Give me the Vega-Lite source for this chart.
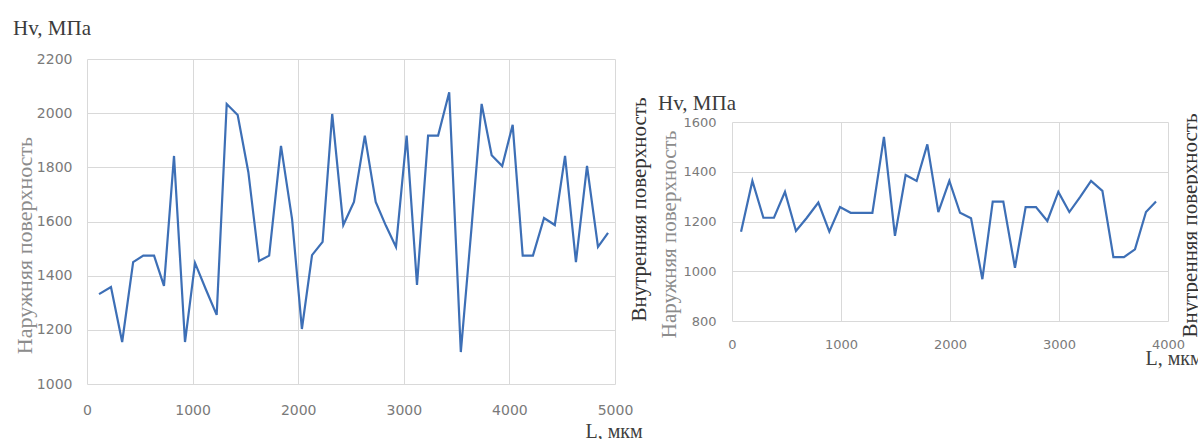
{
  "$schema": "https://vega.github.io/schema/vega-lite/v6.json",
  "padding": {"left": 13, "top": 18, "right": 0, "bottom": 0},
  "background": "white",
  "spacing": 117,
  "center": true,
  "bounds": "flush",
  "config": {
    "view": {"stroke": null},
    "axis": {
      "grid": true, "gridColor": "#d9d9d9", "gridWidth": 1,
      "domain": false, "ticks": false, "tickSize": 0, "format": "d",
      "labelFont": "DejaVu Sans", "labelColor": "#7a7a7a", "labelFlush": false, "labelOverlap": false,
      "titleFont": "Liberation Serif", "titleFontWeight": "normal"
    },
    "title": {"font": "Liberation Serif", "fontWeight": "normal", "color": "#3b3b3b", "fontSize": 21}
  },
  "datasets": {
    "outer": [
      {"L": 114, "Hv": 1332}, {"L": 227, "Hv": 1358}, {"L": 333, "Hv": 1155}, {"L": 437, "Hv": 1450},
      {"L": 533, "Hv": 1474}, {"L": 635, "Hv": 1474}, {"L": 729, "Hv": 1362}, {"L": 824, "Hv": 1842},
      {"L": 928, "Hv": 1155}, {"L": 1023, "Hv": 1447}, {"L": 1125, "Hv": 1350}, {"L": 1228, "Hv": 1255},
      {"L": 1323, "Hv": 2034}, {"L": 1427, "Hv": 1993}, {"L": 1528, "Hv": 1782}, {"L": 1629, "Hv": 1454},
      {"L": 1725, "Hv": 1474}, {"L": 1837, "Hv": 1879}, {"L": 1942, "Hv": 1609}, {"L": 2035, "Hv": 1203},
      {"L": 2131, "Hv": 1476}, {"L": 2231, "Hv": 1525}, {"L": 2322, "Hv": 1997}, {"L": 2427, "Hv": 1587},
      {"L": 2528, "Hv": 1672}, {"L": 2631, "Hv": 1917}, {"L": 2734, "Hv": 1672}, {"L": 2830, "Hv": 1585},
      {"L": 2926, "Hv": 1506}, {"L": 3027, "Hv": 1917}, {"L": 3125, "Hv": 1366}, {"L": 3230, "Hv": 1917},
      {"L": 3325, "Hv": 1917}, {"L": 3430, "Hv": 2077}, {"L": 3540, "Hv": 1118}, {"L": 3643, "Hv": 1585},
      {"L": 3737, "Hv": 2034}, {"L": 3832, "Hv": 1845}, {"L": 3932, "Hv": 1805}, {"L": 4031, "Hv": 1957},
      {"L": 4126, "Hv": 1474}, {"L": 4223, "Hv": 1474}, {"L": 4328, "Hv": 1613}, {"L": 4430, "Hv": 1587},
      {"L": 4527, "Hv": 1842}, {"L": 4630, "Hv": 1450}, {"L": 4735, "Hv": 1805}, {"L": 4839, "Hv": 1506},
      {"L": 4934, "Hv": 1558}
    ],
    "inner": [
      {"L": 83, "Hv": 1159}, {"L": 187, "Hv": 1363}, {"L": 288, "Hv": 1215}, {"L": 385, "Hv": 1215},
      {"L": 486, "Hv": 1319}, {"L": 587, "Hv": 1162}, {"L": 685, "Hv": 1214}, {"L": 792, "Hv": 1276},
      {"L": 893, "Hv": 1159}, {"L": 991, "Hv": 1258}, {"L": 1089, "Hv": 1235}, {"L": 1190, "Hv": 1235},
      {"L": 1288, "Hv": 1235}, {"L": 1394, "Hv": 1540}, {"L": 1495, "Hv": 1142}, {"L": 1593, "Hv": 1387},
      {"L": 1694, "Hv": 1363}, {"L": 1792, "Hv": 1510}, {"L": 1893, "Hv": 1238}, {"L": 1994, "Hv": 1363},
      {"L": 2092, "Hv": 1235}, {"L": 2193, "Hv": 1213}, {"L": 2297, "Hv": 968}, {"L": 2392, "Hv": 1280},
      {"L": 2489, "Hv": 1280}, {"L": 2596, "Hv": 1014}, {"L": 2694, "Hv": 1258}, {"L": 2789, "Hv": 1258},
      {"L": 2893, "Hv": 1202}, {"L": 2994, "Hv": 1319}, {"L": 3095, "Hv": 1238}, {"L": 3193, "Hv": 1298},
      {"L": 3294, "Hv": 1363}, {"L": 3398, "Hv": 1323}, {"L": 3499, "Hv": 1057}, {"L": 3596, "Hv": 1057},
      {"L": 3697, "Hv": 1088}, {"L": 3798, "Hv": 1238}, {"L": 3890, "Hv": 1280}
    ]
  },
  "hconcat": [
    {
      "width": 528,
      "height": 325,
      "title": {"text": "Hv, МПа", "anchor": "start", "frame": "bounds", "baseline": "alphabetic", "offset": -4},
      "data": {"name": "outer"},
      "layer": [
        {
          "mark": {"type": "line", "color": "#3d6fb6", "strokeWidth": 2.2},
          "encoding": {
            "x": {
              "field": "L", "type": "quantitative",
              "scale": {"domain": [0, 5000], "nice": false, "zero": false},
              "axis": {
                "values": [0, 1000, 2000, 3000, 4000, 5000], "labelFontSize": 14, "labelPadding": 19,
                "title": "L, мкм", "titleFontSize": 20, "titleColor": "#404040",
                "titleX": 498, "titleY": 53, "titleAlign": "left", "titleBaseline": "alphabetic"
              }
            },
            "y": {
              "field": "Hv", "type": "quantitative",
              "scale": {"domain": [1000, 2200], "nice": false, "zero": false},
              "axis": {
                "values": [1000, 1200, 1400, 1600, 1800, 2000, 2200], "labelFontSize": 14, "labelPadding": 15,
                "title": "Наружняя поверхность", "titleFontSize": 22, "titleColor": "#8c8c8c",
                "titleX": -63, "titleY": 186, "titleAngle": 270, "titleAlign": "center", "titleBaseline": "middle"
              }
            }
          }
        },
        {
          "mark": {"type": "line", "opacity": 0},
          "encoding": {
            "x": {"field": "L", "type": "quantitative"},
            "y": {
              "field": "Hv", "type": "quantitative",
              "axis": {
                "orient": "right", "labels": false, "grid": false,
                "title": "Внутренняя поверхность", "titleFontSize": 21, "titleColor": "#333333",
                "titleX": 24, "titleY": 150, "titleAngle": 270, "titleAlign": "center", "titleBaseline": "middle"
              }
            }
          }
        }
      ],
      "resolve": {"axis": {"y": "independent"}}
    },
    {
      "width": 436,
      "height": 199,
      "title": {"text": "Hv, МПа", "anchor": "start", "frame": "bounds", "baseline": "alphabetic", "offset": -18},
      "data": {"name": "inner"},
      "layer": [
        {
          "mark": {"type": "line", "color": "#3d6fb6", "strokeWidth": 2.2},
          "encoding": {
            "x": {
              "field": "L", "type": "quantitative",
              "scale": {"domain": [0, 4000], "nice": false, "zero": false},
              "axis": {
                "values": [0, 1000, 2000, 3000, 4000], "labelFontSize": 13, "labelPadding": 17,
                "title": "L, мкм", "titleFontSize": 20, "titleColor": "#404040",
                "titleX": 413, "titleY": 43, "titleAlign": "left", "titleBaseline": "alphabetic"
              }
            },
            "y": {
              "field": "Hv", "type": "quantitative",
              "scale": {"domain": [800, 1600], "nice": false, "zero": false},
              "axis": {
                "values": [800, 1000, 1200, 1400, 1600], "labelFontSize": 13, "labelPadding": 16,
                "title": "Наружняя поверхность", "titleFontSize": 21, "titleColor": "#8c8c8c",
                "titleX": -63, "titleY": 112, "titleAngle": 270, "titleAlign": "center", "titleBaseline": "middle"
              }
            }
          }
        },
        {
          "mark": {"type": "line", "opacity": 0},
          "encoding": {
            "x": {"field": "L", "type": "quantitative"},
            "y": {
              "field": "Hv", "type": "quantitative",
              "axis": {
                "orient": "right", "labels": false, "grid": false,
                "title": "Внутренняя поверхность", "titleFontSize": 21, "titleColor": "#333333",
                "titleX": 22, "titleY": 103, "titleAngle": 270, "titleAlign": "center", "titleBaseline": "middle"
              }
            }
          }
        }
      ],
      "resolve": {"axis": {"y": "independent"}}
    }
  ]
}
